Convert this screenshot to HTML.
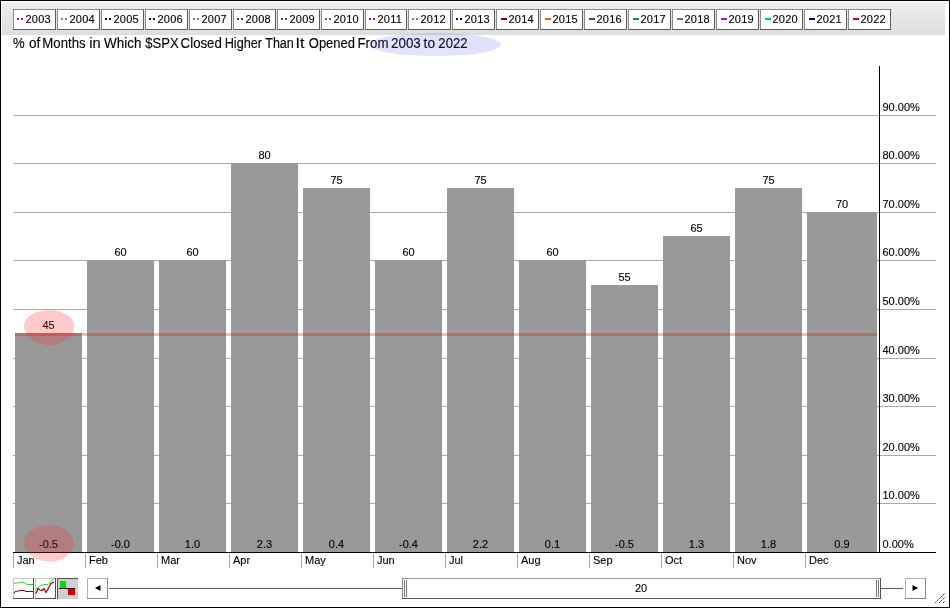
<!DOCTYPE html><html><head><meta charset="utf-8"><style>html,body{margin:0;padding:0;background:#fff;width:950px;height:608px;overflow:hidden}svg text{font-family:"Liberation Sans",sans-serif;fill:#000;opacity:0.999;stroke:#000;stroke-width:0.12px}</style></head><body><svg width="950" height="608" viewBox="0 0 950 608" style="display:block;font-family:&quot;Liberation Sans&quot;, sans-serif;fill:#000"><rect x="0" y="0" width="950" height="608" fill="#fff"/><defs><linearGradient id="band" x1="0" y1="0" x2="0" y2="1"><stop offset="0" stop-color="#f4f4f4"/><stop offset="0.12" stop-color="#ececec"/><stop offset="1" stop-color="#dddddd"/></linearGradient><filter id="soft" x="-20%" y="-20%" width="140%" height="140%"><feGaussianBlur stdDeviation="0.7"/></filter></defs><rect x="2" y="2" width="943" height="33" fill="url(#band)"/><rect x="13" y="9" width="43" height="21" fill="#fff"/><rect x="13" y="9" width="43" height="1" fill="#8a8a8a"/><rect x="13" y="9" width="1" height="21" fill="#8a8a8a"/><rect x="13" y="29" width="43" height="1" fill="#5c5c5c"/><rect x="55" y="9" width="1" height="21" fill="#5c5c5c"/><rect x="17" y="18" width="2" height="2" fill="#b000b0"/><rect x="21" y="18" width="2" height="2" fill="#b000b0"/><text x="25.5" y="23" font-size="11" letter-spacing="0.2">2003</text><rect x="57" y="9" width="43" height="21" fill="#fff"/><rect x="57" y="9" width="43" height="1" fill="#8a8a8a"/><rect x="57" y="9" width="1" height="21" fill="#8a8a8a"/><rect x="57" y="29" width="43" height="1" fill="#5c5c5c"/><rect x="99" y="9" width="1" height="21" fill="#5c5c5c"/><rect x="61" y="18" width="2" height="2" fill="#50a850"/><rect x="65" y="18" width="2" height="2" fill="#50a850"/><text x="69.5" y="23" font-size="11" letter-spacing="0.2">2004</text><rect x="101" y="9" width="43" height="21" fill="#fff"/><rect x="101" y="9" width="43" height="1" fill="#8a8a8a"/><rect x="101" y="9" width="1" height="21" fill="#8a8a8a"/><rect x="101" y="29" width="43" height="1" fill="#5c5c5c"/><rect x="143" y="9" width="1" height="21" fill="#5c5c5c"/><rect x="105" y="18" width="2" height="2" fill="#000070"/><rect x="109" y="18" width="2" height="2" fill="#000070"/><text x="113.5" y="23" font-size="11" letter-spacing="0.2">2005</text><rect x="145" y="9" width="43" height="21" fill="#fff"/><rect x="145" y="9" width="43" height="1" fill="#8a8a8a"/><rect x="145" y="9" width="1" height="21" fill="#8a8a8a"/><rect x="145" y="29" width="43" height="1" fill="#5c5c5c"/><rect x="187" y="9" width="1" height="21" fill="#5c5c5c"/><rect x="149" y="18" width="2" height="2" fill="#400010"/><rect x="153" y="18" width="2" height="2" fill="#400010"/><text x="157.5" y="23" font-size="11" letter-spacing="0.2">2006</text><rect x="189" y="9" width="43" height="21" fill="#fff"/><rect x="189" y="9" width="43" height="1" fill="#8a8a8a"/><rect x="189" y="9" width="1" height="21" fill="#8a8a8a"/><rect x="189" y="29" width="43" height="1" fill="#5c5c5c"/><rect x="231" y="9" width="1" height="21" fill="#5c5c5c"/><rect x="193" y="18" width="2" height="2" fill="#d06048"/><rect x="197" y="18" width="2" height="2" fill="#d06048"/><text x="201.5" y="23" font-size="11" letter-spacing="0.2">2007</text><rect x="233" y="9" width="43" height="21" fill="#fff"/><rect x="233" y="9" width="43" height="1" fill="#8a8a8a"/><rect x="233" y="9" width="1" height="21" fill="#8a8a8a"/><rect x="233" y="29" width="43" height="1" fill="#5c5c5c"/><rect x="275" y="9" width="1" height="21" fill="#5c5c5c"/><rect x="237" y="18" width="2" height="2" fill="#503070"/><rect x="241" y="18" width="2" height="2" fill="#503070"/><text x="245.5" y="23" font-size="11" letter-spacing="0.2">2008</text><rect x="277" y="9" width="43" height="21" fill="#fff"/><rect x="277" y="9" width="43" height="1" fill="#8a8a8a"/><rect x="277" y="9" width="1" height="21" fill="#8a8a8a"/><rect x="277" y="29" width="43" height="1" fill="#5c5c5c"/><rect x="319" y="9" width="1" height="21" fill="#5c5c5c"/><rect x="281" y="18" width="2" height="2" fill="#206868"/><rect x="285" y="18" width="2" height="2" fill="#206868"/><text x="289.5" y="23" font-size="11" letter-spacing="0.2">2009</text><rect x="321" y="9" width="43" height="21" fill="#fff"/><rect x="321" y="9" width="43" height="1" fill="#8a8a8a"/><rect x="321" y="9" width="1" height="21" fill="#8a8a8a"/><rect x="321" y="29" width="43" height="1" fill="#5c5c5c"/><rect x="363" y="9" width="1" height="21" fill="#5c5c5c"/><rect x="325" y="18" width="2" height="2" fill="#606060"/><rect x="329" y="18" width="2" height="2" fill="#606060"/><text x="333.5" y="23" font-size="11" letter-spacing="0.2">2010</text><rect x="365" y="9" width="42" height="21" fill="#fff"/><rect x="365" y="9" width="42" height="1" fill="#8a8a8a"/><rect x="365" y="9" width="1" height="21" fill="#8a8a8a"/><rect x="365" y="29" width="42" height="1" fill="#5c5c5c"/><rect x="406" y="9" width="1" height="21" fill="#5c5c5c"/><rect x="369" y="18" width="2" height="2" fill="#c000c0"/><rect x="373" y="18" width="2" height="2" fill="#c000c0"/><text x="377.5" y="23" font-size="11" letter-spacing="0.2">2011</text><rect x="408" y="9" width="43" height="21" fill="#fff"/><rect x="408" y="9" width="43" height="1" fill="#8a8a8a"/><rect x="408" y="9" width="1" height="21" fill="#8a8a8a"/><rect x="408" y="29" width="43" height="1" fill="#5c5c5c"/><rect x="450" y="9" width="1" height="21" fill="#5c5c5c"/><rect x="412" y="18" width="2" height="2" fill="#30b050"/><rect x="416" y="18" width="2" height="2" fill="#30b050"/><text x="420.5" y="23" font-size="11" letter-spacing="0.2">2012</text><rect x="452" y="9" width="43" height="21" fill="#fff"/><rect x="452" y="9" width="43" height="1" fill="#8a8a8a"/><rect x="452" y="9" width="1" height="21" fill="#8a8a8a"/><rect x="452" y="29" width="43" height="1" fill="#5c5c5c"/><rect x="494" y="9" width="1" height="21" fill="#5c5c5c"/><rect x="456" y="18" width="2" height="2" fill="#0000a0"/><rect x="460" y="18" width="2" height="2" fill="#0000a0"/><text x="464.5" y="23" font-size="11" letter-spacing="0.2">2013</text><rect x="496" y="9" width="43" height="21" fill="#fff"/><rect x="496" y="9" width="43" height="1" fill="#8a8a8a"/><rect x="496" y="9" width="1" height="21" fill="#8a8a8a"/><rect x="496" y="29" width="43" height="1" fill="#5c5c5c"/><rect x="538" y="9" width="1" height="21" fill="#5c5c5c"/><rect x="501" y="18" width="6" height="2" fill="#900010"/><text x="508.5" y="23" font-size="11" letter-spacing="0.2">2014</text><rect x="540" y="9" width="43" height="21" fill="#fff"/><rect x="540" y="9" width="43" height="1" fill="#8a8a8a"/><rect x="540" y="9" width="1" height="21" fill="#8a8a8a"/><rect x="540" y="29" width="43" height="1" fill="#5c5c5c"/><rect x="582" y="9" width="1" height="21" fill="#5c5c5c"/><rect x="545" y="18" width="6" height="2" fill="#e06030"/><text x="552.5" y="23" font-size="11" letter-spacing="0.2">2015</text><rect x="584" y="9" width="43" height="21" fill="#fff"/><rect x="584" y="9" width="43" height="1" fill="#8a8a8a"/><rect x="584" y="9" width="1" height="21" fill="#8a8a8a"/><rect x="584" y="29" width="43" height="1" fill="#5c5c5c"/><rect x="626" y="9" width="1" height="21" fill="#5c5c5c"/><rect x="589" y="18" width="6" height="2" fill="#6030b0"/><text x="596.5" y="23" font-size="11" letter-spacing="0.2">2016</text><rect x="628" y="9" width="43" height="21" fill="#fff"/><rect x="628" y="9" width="43" height="1" fill="#8a8a8a"/><rect x="628" y="9" width="1" height="21" fill="#8a8a8a"/><rect x="628" y="29" width="43" height="1" fill="#5c5c5c"/><rect x="670" y="9" width="1" height="21" fill="#5c5c5c"/><rect x="633" y="18" width="6" height="2" fill="#108868"/><text x="640.5" y="23" font-size="11" letter-spacing="0.2">2017</text><rect x="672" y="9" width="43" height="21" fill="#fff"/><rect x="672" y="9" width="43" height="1" fill="#8a8a8a"/><rect x="672" y="9" width="1" height="21" fill="#8a8a8a"/><rect x="672" y="29" width="43" height="1" fill="#5c5c5c"/><rect x="714" y="9" width="1" height="21" fill="#5c5c5c"/><rect x="677" y="18" width="6" height="2" fill="#707070"/><text x="684.5" y="23" font-size="11" letter-spacing="0.2">2018</text><rect x="716" y="9" width="43" height="21" fill="#fff"/><rect x="716" y="9" width="43" height="1" fill="#8a8a8a"/><rect x="716" y="9" width="1" height="21" fill="#8a8a8a"/><rect x="716" y="29" width="43" height="1" fill="#5c5c5c"/><rect x="758" y="9" width="1" height="21" fill="#5c5c5c"/><rect x="721" y="18" width="6" height="2" fill="#d000d0"/><text x="728.5" y="23" font-size="11" letter-spacing="0.2">2019</text><rect x="760" y="9" width="43" height="21" fill="#fff"/><rect x="760" y="9" width="43" height="1" fill="#8a8a8a"/><rect x="760" y="9" width="1" height="21" fill="#8a8a8a"/><rect x="760" y="29" width="43" height="1" fill="#5c5c5c"/><rect x="802" y="9" width="1" height="21" fill="#5c5c5c"/><rect x="765" y="18" width="6" height="2" fill="#00d040"/><text x="772.5" y="23" font-size="11" letter-spacing="0.2">2020</text><rect x="804" y="9" width="43" height="21" fill="#fff"/><rect x="804" y="9" width="43" height="1" fill="#8a8a8a"/><rect x="804" y="9" width="1" height="21" fill="#8a8a8a"/><rect x="804" y="29" width="43" height="1" fill="#5c5c5c"/><rect x="846" y="9" width="1" height="21" fill="#5c5c5c"/><rect x="809" y="18" width="6" height="2" fill="#000098"/><text x="816.5" y="23" font-size="11" letter-spacing="0.2">2021</text><rect x="848" y="9" width="43" height="21" fill="#fff"/><rect x="848" y="9" width="43" height="1" fill="#8a8a8a"/><rect x="848" y="9" width="1" height="21" fill="#8a8a8a"/><rect x="848" y="29" width="43" height="1" fill="#5c5c5c"/><rect x="890" y="9" width="1" height="21" fill="#5c5c5c"/><rect x="853" y="18" width="6" height="2" fill="#d00020"/><text x="860.5" y="23" font-size="11" letter-spacing="0.2">2022</text><g transform="matrix(1,0,0,1.08,0,48)"><text x="13.03" y="0" font-size="13" textLength="11.63" lengthAdjust="spacingAndGlyphs">%</text><text x="28.93" y="0" font-size="13" textLength="11.25" lengthAdjust="spacingAndGlyphs">of</text><text x="42.32" y="0" font-size="13" textLength="43.26" lengthAdjust="spacingAndGlyphs">Months</text><text x="89.22" y="0" font-size="13" textLength="11.44" lengthAdjust="spacingAndGlyphs">in</text><text x="104.04" y="0" font-size="13" textLength="37.33" lengthAdjust="spacingAndGlyphs">Which</text><text x="145.26" y="0" font-size="13" textLength="33.52" lengthAdjust="spacingAndGlyphs">$SPX</text><text x="180.63" y="0" font-size="13" textLength="41.23" lengthAdjust="spacingAndGlyphs">Closed</text><text x="224.66" y="0" font-size="13" textLength="37.45" lengthAdjust="spacingAndGlyphs">Higher</text><text x="265.22" y="0" font-size="13" textLength="28.60" lengthAdjust="spacingAndGlyphs">Than</text><text x="295.62" y="0" font-size="13" textLength="8.89" lengthAdjust="spacingAndGlyphs">It</text><text x="308.78" y="0" font-size="13" textLength="46.25" lengthAdjust="spacingAndGlyphs">Opened</text><text x="357.51" y="0" font-size="13" textLength="30.96" lengthAdjust="spacingAndGlyphs">From</text><text x="391.13" y="0" font-size="13" textLength="29.66" lengthAdjust="spacingAndGlyphs">2003</text><text x="423.59" y="0" font-size="13" textLength="11.49" lengthAdjust="spacingAndGlyphs">to</text><text x="438.34" y="0" font-size="13" textLength="29.22" lengthAdjust="spacingAndGlyphs">2022</text></g><rect x="13" y="503" width="923" height="1" fill="#aaaaaa"/><text x="882.5" y="499" font-size="11">10.00%</text><rect x="13" y="455" width="923" height="1" fill="#aaaaaa"/><text x="882.5" y="451" font-size="11">20.00%</text><rect x="13" y="406" width="923" height="1" fill="#aaaaaa"/><text x="882.5" y="402" font-size="11">30.00%</text><rect x="13" y="358" width="923" height="1" fill="#aaaaaa"/><text x="882.5" y="354" font-size="11">40.00%</text><rect x="13" y="309" width="923" height="1" fill="#aaaaaa"/><text x="882.5" y="305" font-size="11">50.00%</text><rect x="13" y="260" width="923" height="1" fill="#aaaaaa"/><text x="882.5" y="256" font-size="11">60.00%</text><rect x="13" y="212" width="923" height="1" fill="#aaaaaa"/><text x="882.5" y="208" font-size="11">70.00%</text><rect x="13" y="163" width="923" height="1" fill="#aaaaaa"/><text x="882.5" y="159" font-size="11">80.00%</text><rect x="13" y="115" width="923" height="1" fill="#aaaaaa"/><text x="882.5" y="111" font-size="11">90.00%</text><text x="882.5" y="548" font-size="11">0.00%</text><rect x="15" y="333" width="67" height="219" fill="#999999"/><text x="48.5" y="329" font-size="11" text-anchor="middle">45</text><text x="48.5" y="548" font-size="11" text-anchor="middle">-0.5</text><rect x="13" y="553" width="1" height="15" fill="#a8a8a8"/><text x="17" y="564" font-size="11">Jan</text><rect x="87" y="260" width="67" height="292" fill="#999999"/><text x="120.5" y="256" font-size="11" text-anchor="middle">60</text><text x="120.5" y="548" font-size="11" text-anchor="middle">-0.0</text><rect x="85" y="553" width="1" height="15" fill="#a8a8a8"/><text x="89" y="564" font-size="11">Feb</text><rect x="159" y="260" width="67" height="292" fill="#999999"/><text x="192.5" y="256" font-size="11" text-anchor="middle">60</text><text x="192.5" y="548" font-size="11" text-anchor="middle">1.0</text><rect x="157" y="553" width="1" height="15" fill="#a8a8a8"/><text x="161" y="564" font-size="11">Mar</text><rect x="231" y="163" width="67" height="389" fill="#999999"/><text x="264.5" y="159" font-size="11" text-anchor="middle">80</text><text x="264.5" y="548" font-size="11" text-anchor="middle">2.3</text><rect x="229" y="553" width="1" height="15" fill="#a8a8a8"/><text x="233" y="564" font-size="11">Apr</text><rect x="303" y="188" width="67" height="364" fill="#999999"/><text x="336.5" y="184" font-size="11" text-anchor="middle">75</text><text x="336.5" y="548" font-size="11" text-anchor="middle">0.4</text><rect x="301" y="553" width="1" height="15" fill="#a8a8a8"/><text x="305" y="564" font-size="11">May</text><rect x="375" y="260" width="67" height="292" fill="#999999"/><text x="408.5" y="256" font-size="11" text-anchor="middle">60</text><text x="408.5" y="548" font-size="11" text-anchor="middle">-0.4</text><rect x="373" y="553" width="1" height="15" fill="#a8a8a8"/><text x="377" y="564" font-size="11">Jun</text><rect x="447" y="188" width="67" height="364" fill="#999999"/><text x="480.5" y="184" font-size="11" text-anchor="middle">75</text><text x="480.5" y="548" font-size="11" text-anchor="middle">2.2</text><rect x="445" y="553" width="1" height="15" fill="#a8a8a8"/><text x="449" y="564" font-size="11">Jul</text><rect x="519" y="260" width="67" height="292" fill="#999999"/><text x="552.5" y="256" font-size="11" text-anchor="middle">60</text><text x="552.5" y="548" font-size="11" text-anchor="middle">0.1</text><rect x="517" y="553" width="1" height="15" fill="#a8a8a8"/><text x="521" y="564" font-size="11">Aug</text><rect x="591" y="285" width="67" height="267" fill="#999999"/><text x="624.5" y="281" font-size="11" text-anchor="middle">55</text><text x="624.5" y="548" font-size="11" text-anchor="middle">-0.5</text><rect x="589" y="553" width="1" height="15" fill="#a8a8a8"/><text x="593" y="564" font-size="11">Sep</text><rect x="663" y="236" width="67" height="316" fill="#999999"/><text x="696.5" y="232" font-size="11" text-anchor="middle">65</text><text x="696.5" y="548" font-size="11" text-anchor="middle">1.3</text><rect x="661" y="553" width="1" height="15" fill="#a8a8a8"/><text x="665" y="564" font-size="11">Oct</text><rect x="735" y="188" width="67" height="364" fill="#999999"/><text x="768.5" y="184" font-size="11" text-anchor="middle">75</text><text x="768.5" y="548" font-size="11" text-anchor="middle">1.8</text><rect x="733" y="553" width="1" height="15" fill="#a8a8a8"/><text x="737" y="564" font-size="11">Nov</text><rect x="807" y="212" width="70" height="340" fill="#999999"/><text x="842.0" y="208" font-size="11" text-anchor="middle">70</text><text x="842.0" y="548" font-size="11" text-anchor="middle">0.9</text><rect x="805" y="553" width="1" height="15" fill="#a8a8a8"/><text x="809" y="564" font-size="11">Dec</text><rect x="13" y="552" width="923" height="1" fill="#000"/><rect x="879" y="66" width="1" height="487" fill="#000"/><rect x="15" y="333" width="862" height="3" fill="rgba(255,0,0,0.28)"/><path d="M24,325.5 C24,317.04981 35.192499999999995,310.2 49,310.2 C62.807500000000005,310.2 74,317.04981 74,325.5 C74,336.26985 63.2552,345 50,345 C35.6402,345 24,336.26985 24,325.5 Z" fill="rgba(255,30,30,0.24)" filter="url(#soft)"/><path d="M24,542.5 C24,533.1109 35.192499999999995,525.5 49,525.5 C62.64181,525.5 73.7,533.1109 73.7,542.5 C73.7,552.9937 63.31336,561.5 50.5,561.5 C35.86405,561.5 24,552.9937 24,542.5 Z" fill="rgba(255,30,30,0.24)" filter="url(#soft)"/><ellipse cx="435.5" cy="44.5" rx="65.5" ry="11.5" fill="rgba(70,90,230,0.17)" filter="url(#soft)"/><rect x="13" y="578" width="21" height="21" fill="#fff"/><rect x="13" y="578" width="21" height="1" fill="#c8c8c8"/><rect x="13" y="578" width="1" height="21" fill="#c8c8c8"/><rect x="13" y="598" width="21" height="1" fill="#505050"/><rect x="33" y="578" width="1" height="21" fill="#505050"/><polyline points="14,583.5 17,583 20,582.5 22,582 25,583 27,584.5 33,584.5" fill="none" stroke="#40d040" stroke-width="1"/><polyline points="14,593.5 15,591.5 18,591 21,590.5 24,590.5 26,591.5 33,591.5" fill="none" stroke="#900000" stroke-width="1"/><rect x="35" y="578" width="21" height="21" fill="#fff"/><rect x="35" y="578" width="21" height="1" fill="#c8c8c8"/><rect x="35" y="578" width="1" height="21" fill="#c8c8c8"/><rect x="35" y="598" width="21" height="1" fill="#505050"/><rect x="55" y="578" width="1" height="21" fill="#505050"/><polyline points="36,589 40,586 44,584.5 48,584.5 54,578.5" fill="none" stroke="#40d040" stroke-width="1"/><polyline points="36,593.5 38,588.5 40,590 42,590.5 44,588.5 46,592.5 48,589 51,583.5 54,582" fill="none" stroke="#900000" stroke-width="1.2"/><rect x="57" y="578" width="21" height="21" fill="#cfcfcf"/><rect x="57" y="578" width="21" height="1" fill="#505050"/><rect x="57" y="578" width="1" height="21" fill="#505050"/><rect x="60" y="581" width="6" height="7" fill="#00e000"/><rect x="59" y="588" width="16" height="1" fill="#000"/><rect x="68" y="589" width="7" height="6" fill="#d00000"/><rect x="87" y="578" width="21" height="21" fill="#fff"/><rect x="87" y="578" width="21" height="1" fill="#b0b0b0"/><rect x="87" y="578" width="1" height="21" fill="#b0b0b0"/><rect x="87" y="598" width="21" height="1" fill="#888888"/><rect x="107" y="578" width="1" height="21" fill="#888888"/><polygon points="95,588 100.5,585 100.5,591" fill="#000"/><rect x="905" y="578" width="21" height="21" fill="#fff"/><rect x="905" y="578" width="21" height="1" fill="#b0b0b0"/><rect x="905" y="578" width="1" height="21" fill="#b0b0b0"/><rect x="905" y="598" width="21" height="1" fill="#888888"/><rect x="925" y="578" width="1" height="21" fill="#888888"/><polygon points="918,588 912.5,585 912.5,591" fill="#000"/><rect x="109" y="588" width="293" height="1" fill="#5a5a5a"/><rect x="881" y="588" width="22" height="1" fill="#5a5a5a"/><rect x="402" y="578" width="479" height="21" fill="#fff"/><rect x="402" y="578" width="479" height="1" fill="#999"/><rect x="402" y="578" width="1" height="21" fill="#888"/><rect x="402" y="598" width="479" height="1" fill="#555"/><rect x="880" y="578" width="1" height="21" fill="#555"/><rect x="404" y="580" width="1" height="17" fill="#777"/><rect x="406" y="580" width="1" height="17" fill="#777"/><rect x="876" y="580" width="1" height="17" fill="#777"/><rect x="878" y="580" width="1" height="17" fill="#777"/><text x="641" y="592" font-size="11" text-anchor="middle">20</text><rect x="935" y="602" width="1" height="1" fill="#555"/><rect x="936" y="601" width="1" height="1" fill="#999"/><rect x="937" y="600" width="1" height="1" fill="#555"/><rect x="938" y="599" width="1" height="1" fill="#999"/><rect x="939" y="598" width="1" height="1" fill="#555"/><rect x="940" y="597" width="1" height="1" fill="#999"/><rect x="941" y="596" width="1" height="1" fill="#555"/><rect x="942" y="595" width="1" height="1" fill="#999"/><rect x="943" y="594" width="1" height="1" fill="#555"/><rect x="944" y="593" width="1" height="1" fill="#999"/><rect x="939" y="602" width="1" height="1" fill="#555"/><rect x="940" y="601" width="1" height="1" fill="#999"/><rect x="941" y="600" width="1" height="1" fill="#555"/><rect x="942" y="599" width="1" height="1" fill="#999"/><rect x="943" y="598" width="1" height="1" fill="#555"/><rect x="944" y="597" width="1" height="1" fill="#999"/><rect x="943" y="602" width="1" height="1" fill="#555"/><rect x="944" y="601" width="1" height="1" fill="#999"/><rect x="0.5" y="0.5" width="949" height="607" fill="none" stroke="#000" stroke-width="1"/></svg></body></html>
